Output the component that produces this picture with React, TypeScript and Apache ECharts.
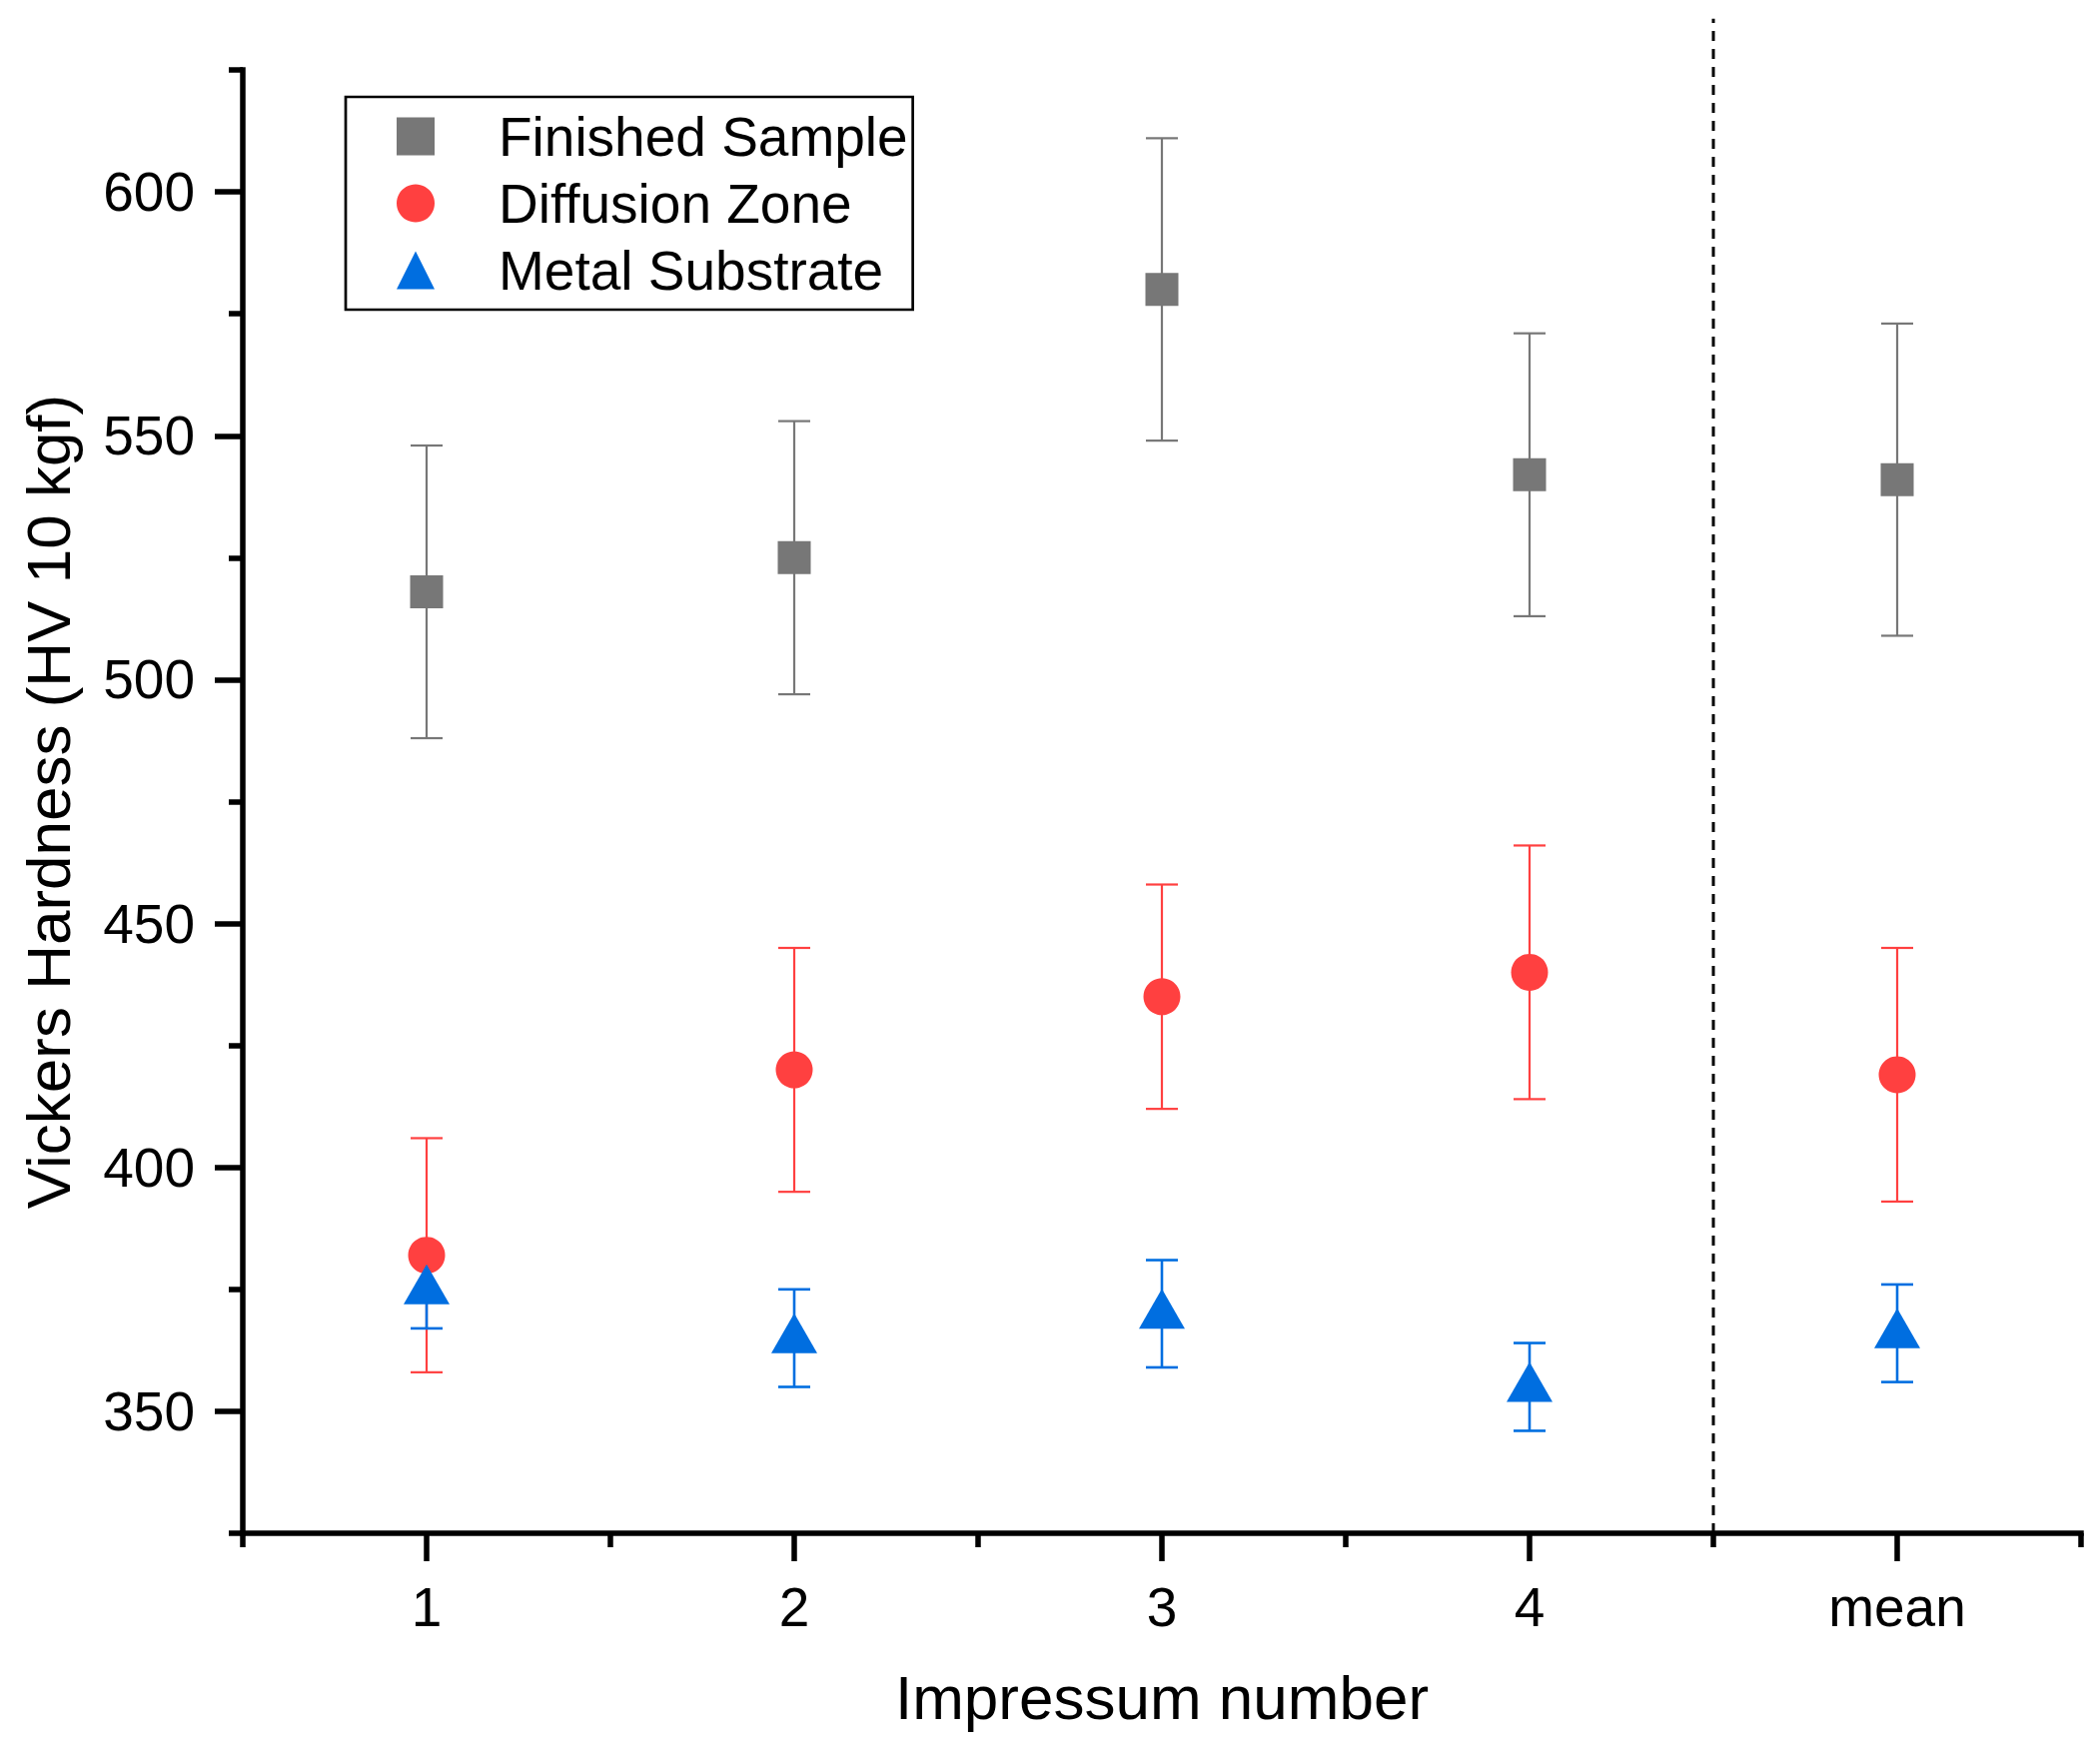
import { useEffect, useRef } from 'react'
import * as echarts from 'echarts'

// impressum labels along x (positions 1..5 on the value axis)
const categories = ['1', '2', '3', '4', 'mean']

// Vickers hardness, mean value and +/- error per impressum
const finishedSample = [518, 525, 580, 542, 541]
const finishedSampleErr = [30, 28, 31, 29, 32]
const diffusionZone = [382, 420, 435, 440, 419]
const diffusionZoneErr = [24, 25, 23, 26, 26]
const metalSubstrate = [375, 365, 370, 355, 366]
const metalSubstrateErr = [8, 10, 11, 9, 10]

// axis ticks
const yMajorTicks = [350, 400, 450, 500, 550, 600]
const yMinorTicks = [325, 375, 425, 475, 525, 575, 625]
const xMajorTicks = [1, 2, 3, 4, 5]
const xMinorTicks = [0.5, 1.5, 2.5, 3.5, 4.5, 5.5]

// dashed divider between single impressums and mean
const divider = [[4.5, 325, 635.5]]

const FONT = '"Liberation Sans", Arial, sans-serif'
const GRAY = '#777777'
const RED = '#FF4040'
const BLUE = '#006EE0'

function errorBars(name: string, means: number[], errs: number[], color: string, width: number) {
  return {
    type: 'custom',
    name: name + ' error',
    clip: false,
    data: means.map((m, i) => [i + 1, m - errs[i], m + errs[i]]),
    encode: { x: 0, y: [1, 2] },
    renderItem: (_params: any, api: any) => {
      const x = api.value(0)
      const lo = api.coord([x, api.value(1)])
      const hi = api.coord([x, api.value(2)])
      const half = 16
      const style = { stroke: color, lineWidth: width }
      return {
        type: 'group',
        children: [
          { type: 'line', shape: { x1: lo[0], y1: lo[1], x2: hi[0], y2: hi[1] }, style },
          { type: 'line', shape: { x1: lo[0] - half, y1: lo[1], x2: lo[0] + half, y2: lo[1] }, style },
          { type: 'line', shape: { x1: hi[0] - half, y1: hi[1], x2: hi[0] + half, y2: hi[1] }, style }
        ]
      }
    }
  }
}

function points(name: string, means: number[], symbol: string, size: any, color: string, offset = [0, 0]) {
  return {
    type: 'scatter',
    name,
    symbol,
    symbolSize: size,
    symbolOffset: offset,
    itemStyle: { color, opacity: 1 },
    data: means.map((m, i) => [i + 1, m])
  }
}

function App() {
  const chartRef = useRef<HTMLDivElement>(null)

  useEffect(() => {
    document.body.style.margin = '0'
    const chart = echarts.init(chartRef.current, null, { renderer: 'svg' })

    const axisLine = { show: true, lineStyle: { color: '#000', width: 5.5, cap: 'square' } }

    chart.setOption({
      animation: false,
      backgroundColor: '#fff',
      grid: { left: 243, right: 19, top: 70, bottom: 222, containLabel: false },
      legend: {
        data: ['Finished Sample', 'Diffusion Zone', 'Metal Substrate'],
        orient: 'vertical',
        left: 346,
        top: 97,
        padding: [12, 5, 12, 51],
        itemWidth: 38,
        itemHeight: 38,
        itemGap: 12,
        selectedMode: false,
        borderColor: '#000',
        borderWidth: 2.7,
        textStyle: {
          fontFamily: FONT,
          fontSize: 55,
          lineHeight: 55,
          color: '#000',
          padding: [0, 0, 0, 59]
        }
      },
      xAxis: [
        {
          type: 'value',
          min: 0.5,
          max: 5.5,
          name: 'Impressum number',
          nameLocation: 'middle',
          nameGap: 133,
          nameTextStyle: { fontFamily: FONT, fontSize: 62, color: '#000' },
          axisLine: { ...axisLine, onZero: false },
          axisTick: { show: true, customValues: xMajorTicks, length: 28, lineStyle: { color: '#000', width: 5.5 } },
          axisLabel: {
            customValues: xMajorTicks,
            margin: 46,
            fontFamily: FONT,
            fontSize: 55,
            color: '#000',
            formatter: (v: number) => categories[Math.round(v) - 1] ?? ''
          },
          splitLine: { show: false }
        },
        {
          type: 'value',
          min: 0.5,
          max: 5.5,
          position: 'bottom',
          axisLine: { show: false, onZero: false },
          axisTick: { show: true, customValues: xMinorTicks, length: 14, lineStyle: { color: '#000', width: 5.5 } },
          axisLabel: { show: false },
          splitLine: { show: false }
        }
      ],
      yAxis: [
        {
          type: 'value',
          min: 325,
          max: 625,
          name: 'Vickers Hardness (HV 10 kgf)',
          nameLocation: 'middle',
          nameGap: 164,
          nameTextStyle: { fontFamily: FONT, fontSize: 62, color: '#000' },
          axisLine: { ...axisLine, onZero: false },
          axisTick: { show: true, customValues: yMajorTicks, length: 28, lineStyle: { color: '#000', width: 5.5 } },
          axisLabel: { customValues: yMajorTicks, margin: 48, fontFamily: FONT, fontSize: 55, color: '#000' },
          splitLine: { show: false }
        },
        {
          type: 'value',
          min: 325,
          max: 625,
          position: 'left',
          axisLine: { show: false, onZero: false },
          axisTick: { show: true, customValues: yMinorTicks, length: 14, lineStyle: { color: '#000', width: 5.5 } },
          axisLabel: { show: false },
          splitLine: { show: false }
        }
      ],
      series: [
        {
          type: 'custom',
          name: 'divider',
          clip: false,
          silent: true,
          data: divider,
          encode: { x: 0, y: [1, 2] },
          renderItem: (_params: any, api: any) => {
            const x = api.value(0)
            const lo = api.coord([x, api.value(1)])
            const hi = api.coord([x, api.value(2)])
            return {
              type: 'line',
              shape: { x1: lo[0], y1: lo[1], x2: hi[0], y2: hi[1] },
              style: { stroke: '#000', lineWidth: 3, lineDash: [10, 8] }
            }
          }
        },
        errorBars('Finished Sample', finishedSample, finishedSampleErr, GRAY, 2.2),
        points('Finished Sample', finishedSample, 'rect', 33, GRAY),
        errorBars('Diffusion Zone', diffusionZone, diffusionZoneErr, RED, 2.2),
        points('Diffusion Zone', diffusionZone, 'circle', 37, RED),
        errorBars('Metal Substrate', metalSubstrate, metalSubstrateErr, BLUE, 2.6),
        points('Metal Substrate', metalSubstrate, 'triangle', [46, 40], BLUE, [0, -5])
      ]
    })

    return () => {
      chart.dispose()
    }
  }, [])

  return <div ref={chartRef} style={{ width: '2102px', height: '1757px' }}></div>
}

export default App
